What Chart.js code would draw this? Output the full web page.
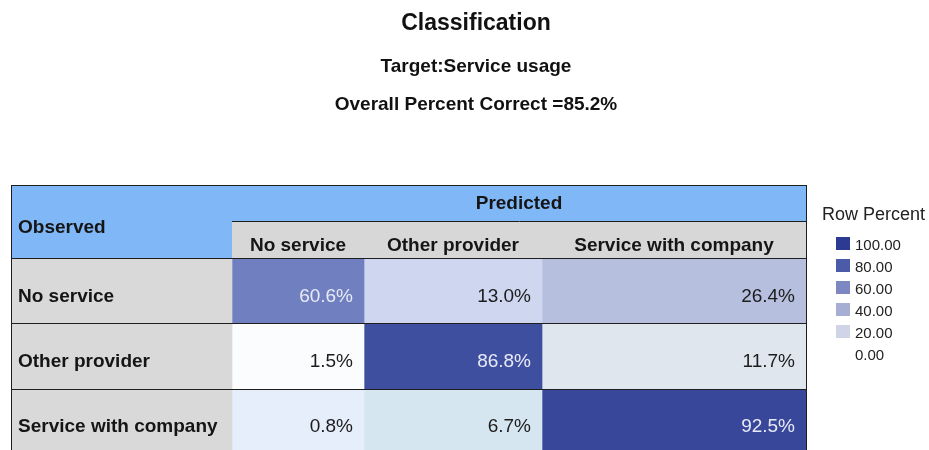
<!DOCTYPE html>
<html>
<head>
<meta charset="utf-8">
<script src="https://cdn.jsdelivr.net/npm/chart.js@4/dist/chart.umd.min.js"></script>
<style>
html, body { margin: 0; padding: 0; background: #fff; overflow: hidden; }
/* the last table row runs a few pixels past the bottom of the window */
#wrap { width: 929px; height: 455px; }
</style>
</head>
<body>
<div id="wrap"><canvas id="classTable"></canvas></div>
<script>
const observed = ['No service', 'Other provider', 'Service with company']
const predicted = ['No service', 'Other provider', 'Service with company']
// row percents, one array per observed class (predicted order)
const pctNoService = [60.6, 13.0, 26.4]
const pctOtherProvider = [1.5, 86.8, 11.7]
const pctServiceWithCompany = [0.8, 6.7, 92.5]
const legendTicks = ['100.00', '80.00', '60.00', '40.00', '20.00', '0.00']
const overallCorrect = 85.2
const targetName = 'Service usage'

const rowPercent = [pctNoService, pctOtherProvider, pctServiceWithCompany]

// cell shades, same layout as rowPercent
const cellFill = [
    ['#707fc0', '#cfd6ef', '#b7bfdf'],
    ['#fbfcfe', '#3f4f9f', '#dfe6ee'],
    ['#e6eefc', '#d6e6f1', '#38479a']
]
const legendFill = ['#2d3a91', '#4b5ba8', '#7d88c3', '#a7aed3', '#cfd4e6']

// label column + the three predicted columns
const colWidths = [221, 132, 178, 264]
var colEdges = [0]
colWidths.forEach(w => colEdges.push(colEdges[colEdges.length - 1] + w))

const FONT = '"Liberation Sans", Arial, sans-serif'
const headerBlue = '#80b7f6'
const headerGrey = '#d7d7d7'
const labelGrey = '#d9d9d9'
const ink = '#151515'
const rule = '#1e1e1e'

var datasets = [{
    label: 'Observed',
    data: observed.map(() => [colEdges[0], colEdges[1]]),
    backgroundColor: labelGrey
}]
predicted.forEach((name, c) => {
    datasets.push({
        label: name,
        data: observed.map(() => [colEdges[c + 1], colEdges[c + 2]]),
        backgroundColor: observed.map((o, r) => cellFill[r][c]),
        pct: observed.map((o, r) => rowPercent[r][c])
    })
})

const hline = function (ctx, x0, x1, y) {
    ctx.beginPath()
    ctx.moveTo(x0, Math.round(y) + 0.5)
    ctx.lineTo(x1, Math.round(y) + 0.5)
    ctx.stroke()
}
const vline = function (ctx, x, y0, y1) {
    ctx.beginPath()
    ctx.moveTo(Math.round(x) + 0.5, y0)
    ctx.lineTo(Math.round(x) + 0.5, y1)
    ctx.stroke()
}

// header rows, text in the cells, rules, titles and the shade key
const tablePlugin = {
    id: 'tablePlugin',
    afterDatasetsDraw(chart) {
        const ctx = chart.ctx
        const area = chart.chartArea
        const xs = chart.scales.x
        const xe = colEdges.map(v => xs.getPixelForValue(v))
        const top = 185, mid = 221, bot = area.top

        ctx.save()
        // header backgrounds
        ctx.fillStyle = headerBlue
        ctx.fillRect(xe[0], top, xe[4] - xe[0], mid - top)
        ctx.fillRect(xe[0], top, xe[1] - xe[0], bot - top)
        ctx.fillStyle = headerGrey
        ctx.fillRect(xe[1], mid, xe[4] - xe[1], bot - mid)

        ctx.fillStyle = ink
        ctx.textBaseline = 'alphabetic'
        ctx.font = 'bold 19px ' + FONT
        ctx.textAlign = 'center'
        ctx.fillText('Predicted', (xe[1] + xe[4]) / 2, 209)
        predicted.forEach((name, c) => {
            ctx.fillText(name, (xe[c + 1] + xe[c + 2]) / 2, 251)
        })
        ctx.textAlign = 'left'
        ctx.fillText('Observed', xe[0] + 7, 233)

        // row labels and percents
        const labelBars = chart.getDatasetMeta(0).data
        labelBars.forEach((bar, r) => {
            ctx.font = 'bold 19px ' + FONT
            ctx.fillStyle = ink
            ctx.textAlign = 'left'
            ctx.fillText(observed[r], bar.base + 7, bar.y + 10)
        })
        for (let d = 1; d < chart.data.datasets.length; d++) {
            const ds = chart.data.datasets[d]
            chart.getDatasetMeta(d).data.forEach((bar, r) => {
                const v = ds.pct[r]
                ctx.font = '19px ' + FONT
                ctx.fillStyle = v >= 50 ? '#e8ebf6' : '#1c1c1c'
                ctx.textAlign = 'right'
                ctx.fillText(v.toFixed(1) + '%', bar.x - 11, bar.y + 10)
            })
        }

        // rules
        ctx.strokeStyle = rule
        ctx.lineWidth = 1
        hline(ctx, xe[0], xe[4] + 1, top)
        hline(ctx, xe[1], xe[4] + 1, mid)
        hline(ctx, xe[0], xe[4] + 1, bot - 1)
        labelBars.forEach((bar, r) => {
            if (r > 0) hline(ctx, xe[0], xe[4] + 1, bar.y - bar.height / 2 - 1)
        })
        vline(ctx, xe[0], top, area.bottom)
        vline(ctx, xe[4], top, area.bottom)

        // titles
        ctx.fillStyle = '#111'
        ctx.textAlign = 'center'
        ctx.font = 'bold 23px ' + FONT
        ctx.fillText('Classification', 476, 30)
        ctx.font = 'bold 19px ' + FONT
        ctx.fillText('Target:' + targetName, 476, 72)
        ctx.fillText('Overall Percent Correct =' + overallCorrect.toFixed(1) + '%', 476, 110)

        // shade key
        ctx.textAlign = 'left'
        ctx.fillStyle = '#222'
        ctx.font = '18px ' + FONT
        ctx.fillText('Row Percent', 822, 220)
        ctx.font = '15px ' + FONT
        legendTicks.forEach((t, i) => {
            const cy = 244 + i * 22
            if (i < legendFill.length) {
                ctx.fillStyle = legendFill[i]
                ctx.fillRect(836, cy - 7, 14, 13)
            }
            ctx.fillStyle = '#222'
            ctx.fillText(t, 855, cy + 5.5)
        })
        ctx.restore()
    }
}

var chart = new Chart(document.getElementById('classTable'), {
    type: 'bar',
    data: {
        labels: observed,
        datasets: datasets
    },
    options: {
        indexAxis: 'y',
        responsive: true,
        maintainAspectRatio: false,
        animation: false,
        devicePixelRatio: 1,
        grouped: false,
        barPercentage: 1,
        categoryPercentage: 1,
        borderWidth: 0,
        layout: {
            padding: { left: 11, right: 123, top: 259, bottom: 0 }
        },
        scales: {
            x: { type: 'linear', min: colEdges[0], max: colEdges[colEdges.length - 1], display: false },
            y: { type: 'category', display: false }
        },
        plugins: {
            legend: { display: false },
            title: { display: false },
            tooltip: { enabled: false }
        }
    },
    plugins: [tablePlugin]
})
</script>
</body>
</html>
